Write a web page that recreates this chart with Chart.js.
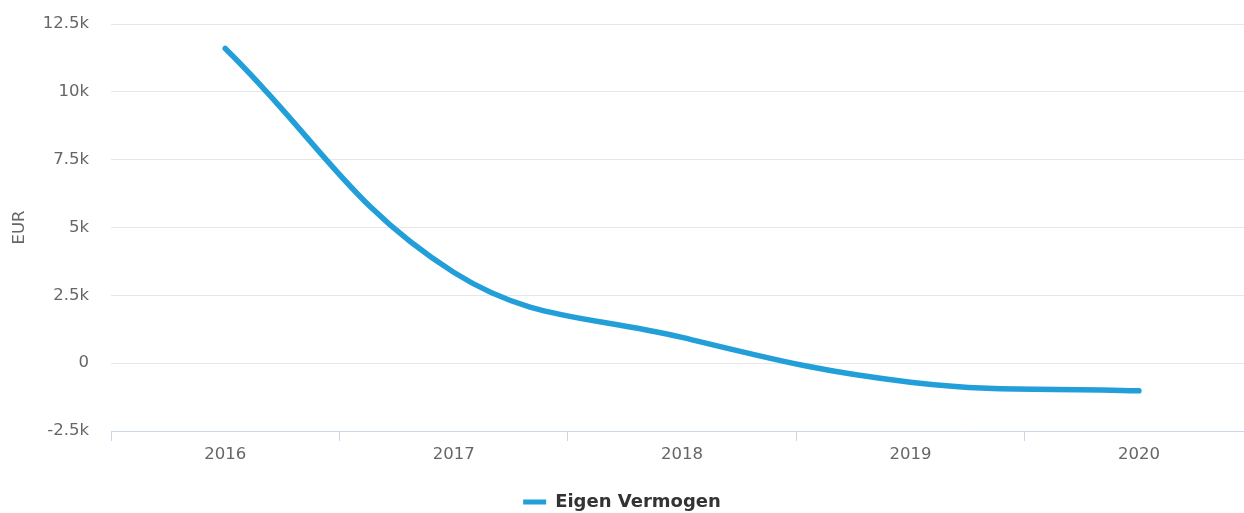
<!DOCTYPE html>
<html>
<head>
<meta charset="utf-8">
<script src="https://cdn.jsdelivr.net/npm/chart.js@4/dist/chart.umd.min.js"></script>
<style>
  html, body { margin: 0; padding: 0; background: #ffffff; }
  #wrap { width: 1244px; height: 513px; position: relative; }
</style>
</head>
<body>
<div id="wrap"><canvas id="c" width="1244" height="513"></canvas></div>
<script>
const categories = ['2016', '2017', '2018', '2019', '2020'];
const seriesName = 'Eigen Vermogen';
const eigenVermogen = [11600, 3350, 950, -700, -1020];
const yTicks = [-2500, 0, 2500, 5000, 7500, 10000, 12500];
const yTickLabels = ['-2.5k', '0', '2.5k', '5k', '7.5k', '10k', '12.5k'];

const lineColor = '#229fd9';
const font = 'DejaVu Sans';

new Chart(document.getElementById('c'), {
  type: 'line',
  data: {
    datasets: [{
      label: seriesName,
      data: eigenVermogen.map((v, i) => ({ x: i, y: v })),
      borderColor: lineColor,
      backgroundColor: lineColor,
      borderWidth: 5.5,
      borderCapStyle: 'round',
      borderJoinStyle: 'round',
      pointRadius: 0,
      pointHoverRadius: 0,
      tension: 0.4,
      fill: false
    }]
  },
  options: {
    responsive: false,
    animation: false,
    devicePixelRatio: 1,
    layout: { padding: { top: 24, right: 0, bottom: -8, left: 0 } },
    plugins: {
      tooltip: { enabled: false },
      legend: {
        position: 'bottom',
        labels: {
          boxWidth: 23,
          boxHeight: 5,
          color: '#333333',
          font: { family: font, size: 18, weight: 'bold' },
          padding: 3,
          generateLabels: (chart) => Chart.defaults.plugins.legend.labels.generateLabels(chart).map(l => Object.assign(l, { lineWidth: 0, strokeStyle: 'rgba(0,0,0,0)' }))
        }
      }
    },
    scales: {
      x: {
        type: 'linear',
        min: -0.5,
        max: 4.46,
        afterBuildTicks: (scale) => { scale.ticks = categories.map((_, i) => ({ value: i })); },
        afterFit: (scale) => { scale.height = 59; },
        ticks: {
          autoSkip: false,
          maxRotation: 0,
          color: '#666666',
          font: { family: font, size: 16.5 },
          padding: 4,
          callback: (v) => categories[v] ?? ''
        },
        grid: {
          offset: true,
          drawOnChartArea: false,
          drawTicks: true,
          tickLength: 10,
          color: '#ccd6eb',
          lineWidth: 1
        },
        border: { display: true, color: '#ccd6eb', width: 1 }
      },
      y: {
        min: yTicks[0],
        max: yTicks[yTicks.length - 1],
        afterBuildTicks: (scale) => { scale.ticks = yTicks.map(v => ({ value: v })); },
        afterFit: (scale) => { scale.width = 111; },
        ticks: {
          color: '#666666',
          font: { family: font, size: 16.5 },
          padding: 2,
          callback: (v) => yTickLabels[yTicks.indexOf(v)]
        },
        grid: { color: '#e6e6e6', lineWidth: 1, drawTicks: true, tickLength: 20, tickColor: 'rgba(0,0,0,0)' },
        border: { display: false },
        title: {
          display: true,
          text: 'EUR',
          color: '#666666',
          font: { family: font, size: 16.5 },
          padding: { top: 10, bottom: 0 }
        }
      }
    }
  }
});
</script>
</body>
</html>
